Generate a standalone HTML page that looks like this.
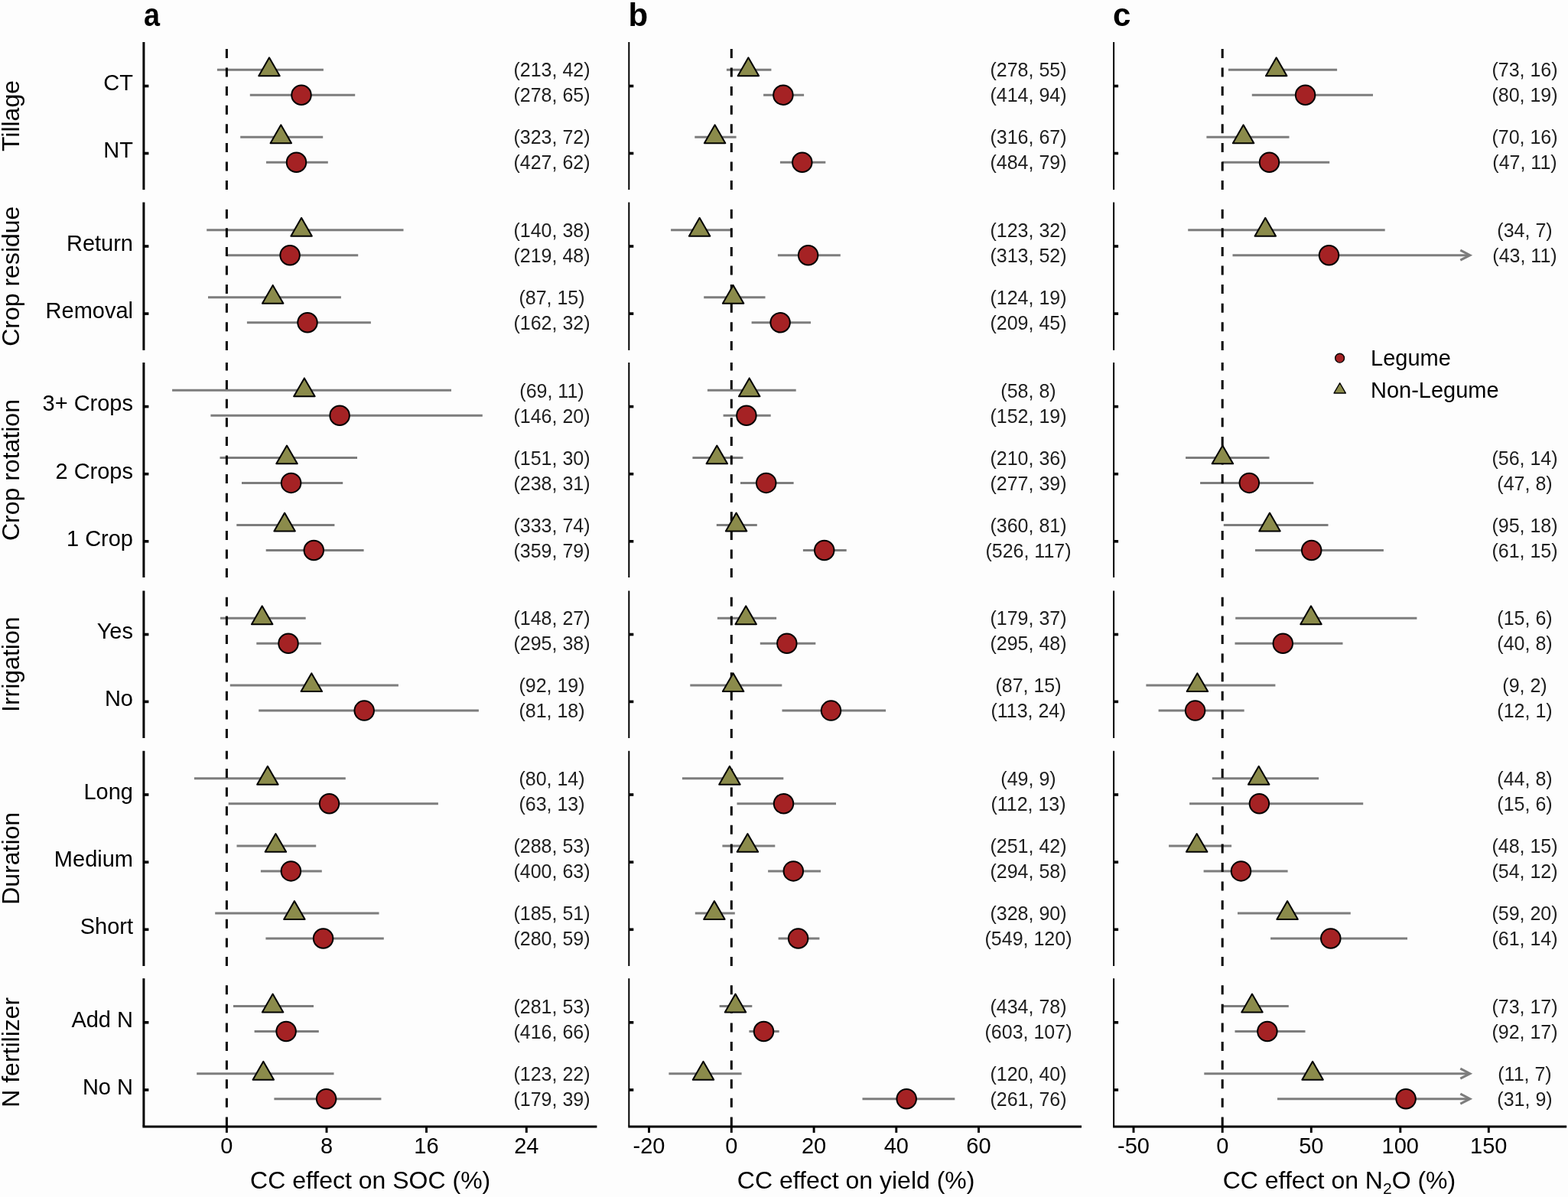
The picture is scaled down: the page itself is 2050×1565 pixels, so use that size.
<!DOCTYPE html><html><head><meta charset="utf-8"><style>html,body{margin:0;padding:0;background:#fdfdfd;}svg{display:block;}text{font-family:"Liberation Sans",sans-serif;}</style></head><body>
<svg width="2050" height="1565" viewBox="0 0 2050 1565">
<rect width="2050" height="1565" fill="#fdfdfd"/>
<text transform="translate(24.9,151.55) rotate(-90)" text-anchor="middle" font-size="32" fill="#000">Tillage</text>
<text x="174" y="118.3" text-anchor="end" font-size="29" fill="#000">CT</text>
<text x="174" y="206.3" text-anchor="end" font-size="29" fill="#000">NT</text>
<text transform="translate(24.9,361.2) rotate(-90)" text-anchor="middle" font-size="32" fill="#000">Crop residue</text>
<text x="174" y="327.8" text-anchor="end" font-size="29" fill="#000">Return</text>
<text x="174" y="415.9" text-anchor="end" font-size="29" fill="#000">Removal</text>
<text transform="translate(24.9,614.55) rotate(-90)" text-anchor="middle" font-size="32" fill="#000">Crop rotation</text>
<text x="174" y="537.4" text-anchor="end" font-size="29" fill="#000">3+ Crops</text>
<text x="174" y="625.5" text-anchor="end" font-size="29" fill="#000">2 Crops</text>
<text x="174" y="713.6" text-anchor="end" font-size="29" fill="#000">1 Crop</text>
<text transform="translate(24.9,868.7) rotate(-90)" text-anchor="middle" font-size="32" fill="#000">Irrigation</text>
<text x="174" y="835.3" text-anchor="end" font-size="29" fill="#000">Yes</text>
<text x="174" y="923.2" text-anchor="end" font-size="29" fill="#000">No</text>
<text transform="translate(24.9,1122.35) rotate(-90)" text-anchor="middle" font-size="32" fill="#000">Duration</text>
<text x="174" y="1044.8" text-anchor="end" font-size="29" fill="#000">Long</text>
<text x="174" y="1133" text-anchor="end" font-size="29" fill="#000">Medium</text>
<text x="174" y="1221.1" text-anchor="end" font-size="29" fill="#000">Short</text>
<text transform="translate(24.9,1375.8) rotate(-90)" text-anchor="middle" font-size="32" fill="#000">N fertilizer</text>
<text x="174" y="1342.6" text-anchor="end" font-size="29" fill="#000">Add N</text>
<text x="174" y="1430.8" text-anchor="end" font-size="29" fill="#000">No N</text>
<text x="187.9" y="34" font-size="42" font-weight="bold" fill="#000" textLength="21" lengthAdjust="spacingAndGlyphs">a</text>
<line x1="187.9" y1="55" x2="187.9" y2="248.1" stroke="#000" stroke-width="3.0"/>
<line x1="187.9" y1="112.5" x2="194.4" y2="112.5" stroke="#000" stroke-width="3.6"/>
<line x1="187.9" y1="200.5" x2="194.4" y2="200.5" stroke="#000" stroke-width="3.6"/>
<line x1="187.9" y1="264.5" x2="187.9" y2="457.9" stroke="#000" stroke-width="3.0"/>
<line x1="187.9" y1="322" x2="194.4" y2="322" stroke="#000" stroke-width="3.6"/>
<line x1="187.9" y1="410.1" x2="194.4" y2="410.1" stroke="#000" stroke-width="3.6"/>
<line x1="187.9" y1="474" x2="187.9" y2="755.1" stroke="#000" stroke-width="3.0"/>
<line x1="187.9" y1="531.6" x2="194.4" y2="531.6" stroke="#000" stroke-width="3.6"/>
<line x1="187.9" y1="619.7" x2="194.4" y2="619.7" stroke="#000" stroke-width="3.6"/>
<line x1="187.9" y1="707.8" x2="194.4" y2="707.8" stroke="#000" stroke-width="3.6"/>
<line x1="187.9" y1="772.4" x2="187.9" y2="965" stroke="#000" stroke-width="3.0"/>
<line x1="187.9" y1="829.5" x2="194.4" y2="829.5" stroke="#000" stroke-width="3.6"/>
<line x1="187.9" y1="917.4" x2="194.4" y2="917.4" stroke="#000" stroke-width="3.6"/>
<line x1="187.9" y1="981.7" x2="187.9" y2="1263" stroke="#000" stroke-width="3.0"/>
<line x1="187.9" y1="1039" x2="194.4" y2="1039" stroke="#000" stroke-width="3.6"/>
<line x1="187.9" y1="1127.2" x2="194.4" y2="1127.2" stroke="#000" stroke-width="3.6"/>
<line x1="187.9" y1="1215.3" x2="194.4" y2="1215.3" stroke="#000" stroke-width="3.6"/>
<line x1="187.9" y1="1279.2" x2="187.9" y2="1472.4" stroke="#000" stroke-width="3.0"/>
<line x1="187.9" y1="1336.8" x2="194.4" y2="1336.8" stroke="#000" stroke-width="3.6"/>
<line x1="187.9" y1="1425" x2="194.4" y2="1425" stroke="#000" stroke-width="3.6"/>
<line x1="186.4" y1="1473" x2="780.4" y2="1473" stroke="#000" stroke-width="3"/>
<line x1="296.4" y1="1473" x2="296.4" y2="1481" stroke="#000" stroke-width="2.9"/>
<text x="296.4" y="1508.2" text-anchor="middle" font-size="29" fill="#000">0</text>
<line x1="427" y1="1473" x2="427" y2="1481" stroke="#000" stroke-width="2.9"/>
<text x="427" y="1508.2" text-anchor="middle" font-size="29" fill="#000">8</text>
<line x1="557.5" y1="1473" x2="557.5" y2="1481" stroke="#000" stroke-width="2.9"/>
<text x="557.5" y="1508.2" text-anchor="middle" font-size="29" fill="#000">16</text>
<line x1="688.3" y1="1473" x2="688.3" y2="1481" stroke="#000" stroke-width="2.9"/>
<text x="688.3" y="1508.2" text-anchor="middle" font-size="29" fill="#000">24</text>
<text x="484.15" y="1554.2" text-anchor="middle" font-size="32" fill="#000">CC effect on SOC (%)</text>
<line x1="283.9" y1="91.2" x2="422.9" y2="91.2" stroke="#7d7d7d" stroke-width="3.0"/>
<line x1="326.8" y1="124.2" x2="464.2" y2="124.2" stroke="#7d7d7d" stroke-width="3.0"/>
<line x1="314.2" y1="179.2" x2="422.2" y2="179.2" stroke="#7d7d7d" stroke-width="3.0"/>
<line x1="348" y1="212.2" x2="428.8" y2="212.2" stroke="#7d7d7d" stroke-width="3.0"/>
<line x1="270.2" y1="300.7" x2="527.5" y2="300.7" stroke="#7d7d7d" stroke-width="3.0"/>
<line x1="296.2" y1="333.7" x2="468.2" y2="333.7" stroke="#7d7d7d" stroke-width="3.0"/>
<line x1="272" y1="388.8" x2="445.9" y2="388.8" stroke="#7d7d7d" stroke-width="3.0"/>
<line x1="322.9" y1="421.8" x2="484.9" y2="421.8" stroke="#7d7d7d" stroke-width="3.0"/>
<line x1="225.1" y1="510.3" x2="590" y2="510.3" stroke="#7d7d7d" stroke-width="3.0"/>
<line x1="275.4" y1="543.3" x2="630.8" y2="543.3" stroke="#7d7d7d" stroke-width="3.0"/>
<line x1="287.5" y1="598.4" x2="467" y2="598.4" stroke="#7d7d7d" stroke-width="3.0"/>
<line x1="316" y1="631.4" x2="448.2" y2="631.4" stroke="#7d7d7d" stroke-width="3.0"/>
<line x1="309.3" y1="686.5" x2="437.4" y2="686.5" stroke="#7d7d7d" stroke-width="3.0"/>
<line x1="347.7" y1="719.5" x2="475.6" y2="719.5" stroke="#7d7d7d" stroke-width="3.0"/>
<line x1="288" y1="808.2" x2="399.7" y2="808.2" stroke="#7d7d7d" stroke-width="3.0"/>
<line x1="335.3" y1="841.2" x2="419.9" y2="841.2" stroke="#7d7d7d" stroke-width="3.0"/>
<line x1="300.8" y1="896.1" x2="520.9" y2="896.1" stroke="#7d7d7d" stroke-width="3.0"/>
<line x1="338.2" y1="929.1" x2="625.9" y2="929.1" stroke="#7d7d7d" stroke-width="3.0"/>
<line x1="253.9" y1="1017.7" x2="451.8" y2="1017.7" stroke="#7d7d7d" stroke-width="3.0"/>
<line x1="298.7" y1="1050.7" x2="572.9" y2="1050.7" stroke="#7d7d7d" stroke-width="3.0"/>
<line x1="309.5" y1="1105.9" x2="413.2" y2="1105.9" stroke="#7d7d7d" stroke-width="3.0"/>
<line x1="340.9" y1="1138.9" x2="420.8" y2="1138.9" stroke="#7d7d7d" stroke-width="3.0"/>
<line x1="281.2" y1="1194" x2="495.5" y2="1194" stroke="#7d7d7d" stroke-width="3.0"/>
<line x1="347.4" y1="1227" x2="501.8" y2="1227" stroke="#7d7d7d" stroke-width="3.0"/>
<line x1="305" y1="1315.5" x2="410" y2="1315.5" stroke="#7d7d7d" stroke-width="3.0"/>
<line x1="332.6" y1="1348.5" x2="416.8" y2="1348.5" stroke="#7d7d7d" stroke-width="3.0"/>
<line x1="257.2" y1="1403.7" x2="436.5" y2="1403.7" stroke="#7d7d7d" stroke-width="3.0"/>
<line x1="358.4" y1="1436.7" x2="498.4" y2="1436.7" stroke="#7d7d7d" stroke-width="3.0"/>
<line x1="296.4" y1="248.1" x2="296.4" y2="55" stroke="#000" stroke-width="3" stroke-dasharray="12 12.6"/>
<line x1="296.4" y1="457.9" x2="296.4" y2="264.5" stroke="#000" stroke-width="3" stroke-dasharray="12 12.6"/>
<line x1="296.4" y1="755.1" x2="296.4" y2="474" stroke="#000" stroke-width="3" stroke-dasharray="12 12.6"/>
<line x1="296.4" y1="965" x2="296.4" y2="772.4" stroke="#000" stroke-width="3" stroke-dasharray="12 12.6"/>
<line x1="296.4" y1="1263" x2="296.4" y2="981.7" stroke="#000" stroke-width="3" stroke-dasharray="12 12.6"/>
<line x1="296.4" y1="1472.4" x2="296.4" y2="1279.2" stroke="#000" stroke-width="3" stroke-dasharray="12 12.6"/>
<polygon points="352,75.32 365.75,99.14 338.25,99.14" fill="#8b8b4b" stroke="#000" stroke-width="2.0" stroke-linejoin="round"/>
<circle cx="394" cy="124.2" r="12.75" fill="#a52224" stroke="#000" stroke-width="2.0"/>
<polygon points="367.3,163.32 381.05,187.14 353.55,187.14" fill="#8b8b4b" stroke="#000" stroke-width="2.0" stroke-linejoin="round"/>
<circle cx="387.5" cy="212.2" r="12.75" fill="#a52224" stroke="#000" stroke-width="2.0"/>
<polygon points="394.1,284.82 407.85,308.64 380.35,308.64" fill="#8b8b4b" stroke="#000" stroke-width="2.0" stroke-linejoin="round"/>
<circle cx="379.1" cy="333.7" r="12.75" fill="#a52224" stroke="#000" stroke-width="2.0"/>
<polygon points="356.7,372.92 370.45,396.74 342.95,396.74" fill="#8b8b4b" stroke="#000" stroke-width="2.0" stroke-linejoin="round"/>
<circle cx="402" cy="421.8" r="12.75" fill="#a52224" stroke="#000" stroke-width="2.0"/>
<polygon points="397.9,494.42 411.65,518.24 384.15,518.24" fill="#8b8b4b" stroke="#000" stroke-width="2.0" stroke-linejoin="round"/>
<circle cx="444.1" cy="543.3" r="12.75" fill="#a52224" stroke="#000" stroke-width="2.0"/>
<polygon points="375,582.52 388.75,606.34 361.25,606.34" fill="#8b8b4b" stroke="#000" stroke-width="2.0" stroke-linejoin="round"/>
<circle cx="380.6" cy="631.4" r="12.75" fill="#a52224" stroke="#000" stroke-width="2.0"/>
<polygon points="372.1,670.62 385.85,694.44 358.35,694.44" fill="#8b8b4b" stroke="#000" stroke-width="2.0" stroke-linejoin="round"/>
<circle cx="410.3" cy="719.5" r="12.75" fill="#a52224" stroke="#000" stroke-width="2.0"/>
<polygon points="342.7,792.32 356.45,816.14 328.95,816.14" fill="#8b8b4b" stroke="#000" stroke-width="2.0" stroke-linejoin="round"/>
<circle cx="377" cy="841.2" r="12.75" fill="#a52224" stroke="#000" stroke-width="2.0"/>
<polygon points="407.3,880.22 421.05,904.04 393.55,904.04" fill="#8b8b4b" stroke="#000" stroke-width="2.0" stroke-linejoin="round"/>
<circle cx="476.2" cy="929.1" r="12.75" fill="#a52224" stroke="#000" stroke-width="2.0"/>
<polygon points="349.9,1001.82 363.65,1025.64 336.15,1025.64" fill="#8b8b4b" stroke="#000" stroke-width="2.0" stroke-linejoin="round"/>
<circle cx="430.5" cy="1050.7" r="12.75" fill="#a52224" stroke="#000" stroke-width="2.0"/>
<polygon points="360.4,1090.02 374.15,1113.84 346.65,1113.84" fill="#8b8b4b" stroke="#000" stroke-width="2.0" stroke-linejoin="round"/>
<circle cx="380.4" cy="1138.9" r="12.75" fill="#a52224" stroke="#000" stroke-width="2.0"/>
<polygon points="384.9,1178.12 398.65,1201.94 371.15,1201.94" fill="#8b8b4b" stroke="#000" stroke-width="2.0" stroke-linejoin="round"/>
<circle cx="422.6" cy="1227" r="12.75" fill="#a52224" stroke="#000" stroke-width="2.0"/>
<polygon points="356.6,1299.62 370.35,1323.44 342.85,1323.44" fill="#8b8b4b" stroke="#000" stroke-width="2.0" stroke-linejoin="round"/>
<circle cx="374.1" cy="1348.5" r="12.75" fill="#a52224" stroke="#000" stroke-width="2.0"/>
<polygon points="344.3,1387.82 358.05,1411.64 330.55,1411.64" fill="#8b8b4b" stroke="#000" stroke-width="2.0" stroke-linejoin="round"/>
<circle cx="426.6" cy="1436.7" r="12.75" fill="#a52224" stroke="#000" stroke-width="2.0"/>
<text x="721.5" y="100.4" text-anchor="middle" font-size="25" fill="#202020">(213, 42)</text>
<text x="721.5" y="133.4" text-anchor="middle" font-size="25" fill="#202020">(278, 65)</text>
<text x="721.5" y="188.4" text-anchor="middle" font-size="25" fill="#202020">(323, 72)</text>
<text x="721.5" y="221.4" text-anchor="middle" font-size="25" fill="#202020">(427, 62)</text>
<text x="721.5" y="309.9" text-anchor="middle" font-size="25" fill="#202020">(140, 38)</text>
<text x="721.5" y="342.9" text-anchor="middle" font-size="25" fill="#202020">(219, 48)</text>
<text x="721.5" y="398" text-anchor="middle" font-size="25" fill="#202020">(87, 15)</text>
<text x="721.5" y="431" text-anchor="middle" font-size="25" fill="#202020">(162, 32)</text>
<text x="721.5" y="519.5" text-anchor="middle" font-size="25" fill="#202020">(69, 11)</text>
<text x="721.5" y="552.5" text-anchor="middle" font-size="25" fill="#202020">(146, 20)</text>
<text x="721.5" y="607.6" text-anchor="middle" font-size="25" fill="#202020">(151, 30)</text>
<text x="721.5" y="640.6" text-anchor="middle" font-size="25" fill="#202020">(238, 31)</text>
<text x="721.5" y="695.7" text-anchor="middle" font-size="25" fill="#202020">(333, 74)</text>
<text x="721.5" y="728.7" text-anchor="middle" font-size="25" fill="#202020">(359, 79)</text>
<text x="721.5" y="817.4" text-anchor="middle" font-size="25" fill="#202020">(148, 27)</text>
<text x="721.5" y="850.4" text-anchor="middle" font-size="25" fill="#202020">(295, 38)</text>
<text x="721.5" y="905.3" text-anchor="middle" font-size="25" fill="#202020">(92, 19)</text>
<text x="721.5" y="938.3" text-anchor="middle" font-size="25" fill="#202020">(81, 18)</text>
<text x="721.5" y="1026.9" text-anchor="middle" font-size="25" fill="#202020">(80, 14)</text>
<text x="721.5" y="1059.9" text-anchor="middle" font-size="25" fill="#202020">(63, 13)</text>
<text x="721.5" y="1115.1" text-anchor="middle" font-size="25" fill="#202020">(288, 53)</text>
<text x="721.5" y="1148.1" text-anchor="middle" font-size="25" fill="#202020">(400, 63)</text>
<text x="721.5" y="1203.2" text-anchor="middle" font-size="25" fill="#202020">(185, 51)</text>
<text x="721.5" y="1236.2" text-anchor="middle" font-size="25" fill="#202020">(280, 59)</text>
<text x="721.5" y="1324.7" text-anchor="middle" font-size="25" fill="#202020">(281, 53)</text>
<text x="721.5" y="1357.7" text-anchor="middle" font-size="25" fill="#202020">(416, 66)</text>
<text x="721.5" y="1412.9" text-anchor="middle" font-size="25" fill="#202020">(123, 22)</text>
<text x="721.5" y="1445.9" text-anchor="middle" font-size="25" fill="#202020">(179, 39)</text>
<text x="821.4" y="34" font-size="42" font-weight="bold" fill="#000">b</text>
<line x1="822.3" y1="55" x2="822.3" y2="248.1" stroke="#000" stroke-width="2.0"/>
<line x1="822.3" y1="112.5" x2="828.3" y2="112.5" stroke="#000" stroke-width="3.6"/>
<line x1="822.3" y1="200.5" x2="828.3" y2="200.5" stroke="#000" stroke-width="3.6"/>
<line x1="822.3" y1="264.5" x2="822.3" y2="457.9" stroke="#000" stroke-width="2.0"/>
<line x1="822.3" y1="322" x2="828.3" y2="322" stroke="#000" stroke-width="3.6"/>
<line x1="822.3" y1="410.1" x2="828.3" y2="410.1" stroke="#000" stroke-width="3.6"/>
<line x1="822.3" y1="474" x2="822.3" y2="755.1" stroke="#000" stroke-width="2.0"/>
<line x1="822.3" y1="531.6" x2="828.3" y2="531.6" stroke="#000" stroke-width="3.6"/>
<line x1="822.3" y1="619.7" x2="828.3" y2="619.7" stroke="#000" stroke-width="3.6"/>
<line x1="822.3" y1="707.8" x2="828.3" y2="707.8" stroke="#000" stroke-width="3.6"/>
<line x1="822.3" y1="772.4" x2="822.3" y2="965" stroke="#000" stroke-width="2.0"/>
<line x1="822.3" y1="829.5" x2="828.3" y2="829.5" stroke="#000" stroke-width="3.6"/>
<line x1="822.3" y1="917.4" x2="828.3" y2="917.4" stroke="#000" stroke-width="3.6"/>
<line x1="822.3" y1="981.7" x2="822.3" y2="1263" stroke="#000" stroke-width="2.0"/>
<line x1="822.3" y1="1039" x2="828.3" y2="1039" stroke="#000" stroke-width="3.6"/>
<line x1="822.3" y1="1127.2" x2="828.3" y2="1127.2" stroke="#000" stroke-width="3.6"/>
<line x1="822.3" y1="1215.3" x2="828.3" y2="1215.3" stroke="#000" stroke-width="3.6"/>
<line x1="822.3" y1="1279.2" x2="822.3" y2="1472.4" stroke="#000" stroke-width="2.0"/>
<line x1="822.3" y1="1336.8" x2="828.3" y2="1336.8" stroke="#000" stroke-width="3.6"/>
<line x1="822.3" y1="1425" x2="828.3" y2="1425" stroke="#000" stroke-width="3.6"/>
<line x1="821.3" y1="1473" x2="1414" y2="1473" stroke="#000" stroke-width="3"/>
<line x1="848.5" y1="1473" x2="848.5" y2="1481" stroke="#000" stroke-width="2.9"/>
<text x="848.5" y="1508.2" text-anchor="middle" font-size="29" fill="#000">-20</text>
<line x1="956.3" y1="1473" x2="956.3" y2="1481" stroke="#000" stroke-width="2.9"/>
<text x="956.3" y="1508.2" text-anchor="middle" font-size="29" fill="#000">0</text>
<line x1="1064.1" y1="1473" x2="1064.1" y2="1481" stroke="#000" stroke-width="2.9"/>
<text x="1064.1" y="1508.2" text-anchor="middle" font-size="29" fill="#000">20</text>
<line x1="1171.8" y1="1473" x2="1171.8" y2="1481" stroke="#000" stroke-width="2.9"/>
<text x="1171.8" y="1508.2" text-anchor="middle" font-size="29" fill="#000">40</text>
<line x1="1279.5" y1="1473" x2="1279.5" y2="1481" stroke="#000" stroke-width="2.9"/>
<text x="1279.5" y="1508.2" text-anchor="middle" font-size="29" fill="#000">60</text>
<text x="1119.15" y="1554.2" text-anchor="middle" font-size="32" fill="#000">CC effect on yield (%)</text>
<line x1="949.9" y1="91.2" x2="1008.4" y2="91.2" stroke="#7d7d7d" stroke-width="3.0"/>
<line x1="998.1" y1="124.2" x2="1051.1" y2="124.2" stroke="#7d7d7d" stroke-width="3.0"/>
<line x1="908.3" y1="179.2" x2="962.6" y2="179.2" stroke="#7d7d7d" stroke-width="3.0"/>
<line x1="1019.9" y1="212.2" x2="1079.3" y2="212.2" stroke="#7d7d7d" stroke-width="3.0"/>
<line x1="877.1" y1="300.7" x2="955" y2="300.7" stroke="#7d7d7d" stroke-width="3.0"/>
<line x1="1016.9" y1="333.7" x2="1098.8" y2="333.7" stroke="#7d7d7d" stroke-width="3.0"/>
<line x1="920.2" y1="388.8" x2="1000.5" y2="388.8" stroke="#7d7d7d" stroke-width="3.0"/>
<line x1="982.6" y1="421.8" x2="1060" y2="421.8" stroke="#7d7d7d" stroke-width="3.0"/>
<line x1="924.9" y1="510.3" x2="1040.7" y2="510.3" stroke="#7d7d7d" stroke-width="3.0"/>
<line x1="945.6" y1="543.3" x2="1007.7" y2="543.3" stroke="#7d7d7d" stroke-width="3.0"/>
<line x1="905.4" y1="598.4" x2="971.4" y2="598.4" stroke="#7d7d7d" stroke-width="3.0"/>
<line x1="968" y1="631.4" x2="1037.6" y2="631.4" stroke="#7d7d7d" stroke-width="3.0"/>
<line x1="936.8" y1="686.5" x2="989.8" y2="686.5" stroke="#7d7d7d" stroke-width="3.0"/>
<line x1="1049.9" y1="719.5" x2="1106.7" y2="719.5" stroke="#7d7d7d" stroke-width="3.0"/>
<line x1="937.9" y1="808.2" x2="1015.1" y2="808.2" stroke="#7d7d7d" stroke-width="3.0"/>
<line x1="993.8" y1="841.2" x2="1066.3" y2="841.2" stroke="#7d7d7d" stroke-width="3.0"/>
<line x1="902.3" y1="896.1" x2="1022.3" y2="896.1" stroke="#7d7d7d" stroke-width="3.0"/>
<line x1="1022.5" y1="929.1" x2="1158.1" y2="929.1" stroke="#7d7d7d" stroke-width="3.0"/>
<line x1="891.9" y1="1017.7" x2="1024.3" y2="1017.7" stroke="#7d7d7d" stroke-width="3.0"/>
<line x1="963.5" y1="1050.7" x2="1093" y2="1050.7" stroke="#7d7d7d" stroke-width="3.0"/>
<line x1="944.4" y1="1105.9" x2="1013.3" y2="1105.9" stroke="#7d7d7d" stroke-width="3.0"/>
<line x1="1004.1" y1="1138.9" x2="1073" y2="1138.9" stroke="#7d7d7d" stroke-width="3.0"/>
<line x1="908.8" y1="1194" x2="960.8" y2="1194" stroke="#7d7d7d" stroke-width="3.0"/>
<line x1="1017.6" y1="1227" x2="1071.4" y2="1227" stroke="#7d7d7d" stroke-width="3.0"/>
<line x1="940.6" y1="1315.5" x2="983.3" y2="1315.5" stroke="#7d7d7d" stroke-width="3.0"/>
<line x1="979.4" y1="1348.5" x2="1018.7" y2="1348.5" stroke="#7d7d7d" stroke-width="3.0"/>
<line x1="874.4" y1="1403.7" x2="969.6" y2="1403.7" stroke="#7d7d7d" stroke-width="3.0"/>
<line x1="1127.5" y1="1436.7" x2="1248.3" y2="1436.7" stroke="#7d7d7d" stroke-width="3.0"/>
<line x1="956.3" y1="248.1" x2="956.3" y2="55" stroke="#000" stroke-width="3" stroke-dasharray="12 12.6"/>
<line x1="956.3" y1="457.9" x2="956.3" y2="264.5" stroke="#000" stroke-width="3" stroke-dasharray="12 12.6"/>
<line x1="956.3" y1="755.1" x2="956.3" y2="474" stroke="#000" stroke-width="3" stroke-dasharray="12 12.6"/>
<line x1="956.3" y1="965" x2="956.3" y2="772.4" stroke="#000" stroke-width="3" stroke-dasharray="12 12.6"/>
<line x1="956.3" y1="1263" x2="956.3" y2="981.7" stroke="#000" stroke-width="3" stroke-dasharray="12 12.6"/>
<line x1="956.3" y1="1472.4" x2="956.3" y2="1279.2" stroke="#000" stroke-width="3" stroke-dasharray="12 12.6"/>
<polygon points="978.4,75.32 992.15,99.14 964.65,99.14" fill="#8b8b4b" stroke="#000" stroke-width="2.0" stroke-linejoin="round"/>
<circle cx="1023.9" cy="124.2" r="12.75" fill="#a52224" stroke="#000" stroke-width="2.0"/>
<polygon points="934.6,163.32 948.35,187.14 920.85,187.14" fill="#8b8b4b" stroke="#000" stroke-width="2.0" stroke-linejoin="round"/>
<circle cx="1048.8" cy="212.2" r="12.75" fill="#a52224" stroke="#000" stroke-width="2.0"/>
<polygon points="914.6,284.82 928.35,308.64 900.85,308.64" fill="#8b8b4b" stroke="#000" stroke-width="2.0" stroke-linejoin="round"/>
<circle cx="1056.6" cy="333.7" r="12.75" fill="#a52224" stroke="#000" stroke-width="2.0"/>
<polygon points="958.6,372.92 972.35,396.74 944.85,396.74" fill="#8b8b4b" stroke="#000" stroke-width="2.0" stroke-linejoin="round"/>
<circle cx="1020.1" cy="421.8" r="12.75" fill="#a52224" stroke="#000" stroke-width="2.0"/>
<polygon points="979.7,494.42 993.45,518.24 965.95,518.24" fill="#8b8b4b" stroke="#000" stroke-width="2.0" stroke-linejoin="round"/>
<circle cx="975.9" cy="543.3" r="12.75" fill="#a52224" stroke="#000" stroke-width="2.0"/>
<polygon points="937.3,582.52 951.05,606.34 923.55,606.34" fill="#8b8b4b" stroke="#000" stroke-width="2.0" stroke-linejoin="round"/>
<circle cx="1001.7" cy="631.4" r="12.75" fill="#a52224" stroke="#000" stroke-width="2.0"/>
<polygon points="962.6,670.62 976.35,694.44 948.85,694.44" fill="#8b8b4b" stroke="#000" stroke-width="2.0" stroke-linejoin="round"/>
<circle cx="1077.7" cy="719.5" r="12.75" fill="#a52224" stroke="#000" stroke-width="2.0"/>
<polygon points="975.2,792.32 988.95,816.14 961.45,816.14" fill="#8b8b4b" stroke="#000" stroke-width="2.0" stroke-linejoin="round"/>
<circle cx="1028.8" cy="841.2" r="12.75" fill="#a52224" stroke="#000" stroke-width="2.0"/>
<polygon points="958.6,880.22 972.35,904.04 944.85,904.04" fill="#8b8b4b" stroke="#000" stroke-width="2.0" stroke-linejoin="round"/>
<circle cx="1086.5" cy="929.1" r="12.75" fill="#a52224" stroke="#000" stroke-width="2.0"/>
<polygon points="953.9,1001.82 967.65,1025.64 940.15,1025.64" fill="#8b8b4b" stroke="#000" stroke-width="2.0" stroke-linejoin="round"/>
<circle cx="1024.5" cy="1050.7" r="12.75" fill="#a52224" stroke="#000" stroke-width="2.0"/>
<polygon points="977.4,1090.02 991.15,1113.84 963.65,1113.84" fill="#8b8b4b" stroke="#000" stroke-width="2.0" stroke-linejoin="round"/>
<circle cx="1037.3" cy="1138.9" r="12.75" fill="#a52224" stroke="#000" stroke-width="2.0"/>
<polygon points="933.9,1178.12 947.65,1201.94 920.15,1201.94" fill="#8b8b4b" stroke="#000" stroke-width="2.0" stroke-linejoin="round"/>
<circle cx="1043.6" cy="1227" r="12.75" fill="#a52224" stroke="#000" stroke-width="2.0"/>
<polygon points="961.5,1299.62 975.25,1323.44 947.75,1323.44" fill="#8b8b4b" stroke="#000" stroke-width="2.0" stroke-linejoin="round"/>
<circle cx="998.5" cy="1348.5" r="12.75" fill="#a52224" stroke="#000" stroke-width="2.0"/>
<polygon points="919.5,1387.82 933.25,1411.64 905.75,1411.64" fill="#8b8b4b" stroke="#000" stroke-width="2.0" stroke-linejoin="round"/>
<circle cx="1185.2" cy="1436.7" r="12.75" fill="#a52224" stroke="#000" stroke-width="2.0"/>
<text x="1344.5" y="100.4" text-anchor="middle" font-size="25" fill="#202020">(278, 55)</text>
<text x="1344.5" y="133.4" text-anchor="middle" font-size="25" fill="#202020">(414, 94)</text>
<text x="1344.5" y="188.4" text-anchor="middle" font-size="25" fill="#202020">(316, 67)</text>
<text x="1344.5" y="221.4" text-anchor="middle" font-size="25" fill="#202020">(484, 79)</text>
<text x="1344.5" y="309.9" text-anchor="middle" font-size="25" fill="#202020">(123, 32)</text>
<text x="1344.5" y="342.9" text-anchor="middle" font-size="25" fill="#202020">(313, 52)</text>
<text x="1344.5" y="398" text-anchor="middle" font-size="25" fill="#202020">(124, 19)</text>
<text x="1344.5" y="431" text-anchor="middle" font-size="25" fill="#202020">(209, 45)</text>
<text x="1344.5" y="519.5" text-anchor="middle" font-size="25" fill="#202020">(58, 8)</text>
<text x="1344.5" y="552.5" text-anchor="middle" font-size="25" fill="#202020">(152, 19)</text>
<text x="1344.5" y="607.6" text-anchor="middle" font-size="25" fill="#202020">(210, 36)</text>
<text x="1344.5" y="640.6" text-anchor="middle" font-size="25" fill="#202020">(277, 39)</text>
<text x="1344.5" y="695.7" text-anchor="middle" font-size="25" fill="#202020">(360, 81)</text>
<text x="1344.5" y="728.7" text-anchor="middle" font-size="25" fill="#202020">(526, 117)</text>
<text x="1344.5" y="817.4" text-anchor="middle" font-size="25" fill="#202020">(179, 37)</text>
<text x="1344.5" y="850.4" text-anchor="middle" font-size="25" fill="#202020">(295, 48)</text>
<text x="1344.5" y="905.3" text-anchor="middle" font-size="25" fill="#202020">(87, 15)</text>
<text x="1344.5" y="938.3" text-anchor="middle" font-size="25" fill="#202020">(113, 24)</text>
<text x="1344.5" y="1026.9" text-anchor="middle" font-size="25" fill="#202020">(49, 9)</text>
<text x="1344.5" y="1059.9" text-anchor="middle" font-size="25" fill="#202020">(112, 13)</text>
<text x="1344.5" y="1115.1" text-anchor="middle" font-size="25" fill="#202020">(251, 42)</text>
<text x="1344.5" y="1148.1" text-anchor="middle" font-size="25" fill="#202020">(294, 58)</text>
<text x="1344.5" y="1203.2" text-anchor="middle" font-size="25" fill="#202020">(328, 90)</text>
<text x="1344.5" y="1236.2" text-anchor="middle" font-size="25" fill="#202020">(549, 120)</text>
<text x="1344.5" y="1324.7" text-anchor="middle" font-size="25" fill="#202020">(434, 78)</text>
<text x="1344.5" y="1357.7" text-anchor="middle" font-size="25" fill="#202020">(603, 107)</text>
<text x="1344.5" y="1412.9" text-anchor="middle" font-size="25" fill="#202020">(120, 40)</text>
<text x="1344.5" y="1445.9" text-anchor="middle" font-size="25" fill="#202020">(261, 76)</text>
<text x="1455.1" y="34" font-size="42" font-weight="bold" fill="#000">c</text>
<line x1="1456.1" y1="55" x2="1456.1" y2="248.1" stroke="#000" stroke-width="2.0"/>
<line x1="1456.1" y1="112.5" x2="1462.1" y2="112.5" stroke="#000" stroke-width="3.6"/>
<line x1="1456.1" y1="200.5" x2="1462.1" y2="200.5" stroke="#000" stroke-width="3.6"/>
<line x1="1456.1" y1="264.5" x2="1456.1" y2="457.9" stroke="#000" stroke-width="2.0"/>
<line x1="1456.1" y1="322" x2="1462.1" y2="322" stroke="#000" stroke-width="3.6"/>
<line x1="1456.1" y1="410.1" x2="1462.1" y2="410.1" stroke="#000" stroke-width="3.6"/>
<line x1="1456.1" y1="474" x2="1456.1" y2="755.1" stroke="#000" stroke-width="2.0"/>
<line x1="1456.1" y1="531.6" x2="1462.1" y2="531.6" stroke="#000" stroke-width="3.6"/>
<line x1="1456.1" y1="619.7" x2="1462.1" y2="619.7" stroke="#000" stroke-width="3.6"/>
<line x1="1456.1" y1="707.8" x2="1462.1" y2="707.8" stroke="#000" stroke-width="3.6"/>
<line x1="1456.1" y1="772.4" x2="1456.1" y2="965" stroke="#000" stroke-width="2.0"/>
<line x1="1456.1" y1="829.5" x2="1462.1" y2="829.5" stroke="#000" stroke-width="3.6"/>
<line x1="1456.1" y1="917.4" x2="1462.1" y2="917.4" stroke="#000" stroke-width="3.6"/>
<line x1="1456.1" y1="981.7" x2="1456.1" y2="1263" stroke="#000" stroke-width="2.0"/>
<line x1="1456.1" y1="1039" x2="1462.1" y2="1039" stroke="#000" stroke-width="3.6"/>
<line x1="1456.1" y1="1127.2" x2="1462.1" y2="1127.2" stroke="#000" stroke-width="3.6"/>
<line x1="1456.1" y1="1215.3" x2="1462.1" y2="1215.3" stroke="#000" stroke-width="3.6"/>
<line x1="1456.1" y1="1279.2" x2="1456.1" y2="1472.4" stroke="#000" stroke-width="2.0"/>
<line x1="1456.1" y1="1336.8" x2="1462.1" y2="1336.8" stroke="#000" stroke-width="3.6"/>
<line x1="1456.1" y1="1425" x2="1462.1" y2="1425" stroke="#000" stroke-width="3.6"/>
<line x1="1455.1" y1="1473" x2="2048.2" y2="1473" stroke="#000" stroke-width="3"/>
<line x1="1482" y1="1473" x2="1482" y2="1481" stroke="#000" stroke-width="2.9"/>
<text x="1482" y="1508.2" text-anchor="middle" font-size="29" fill="#000">-50</text>
<line x1="1598.2" y1="1473" x2="1598.2" y2="1481" stroke="#000" stroke-width="2.9"/>
<text x="1598.2" y="1508.2" text-anchor="middle" font-size="29" fill="#000">0</text>
<line x1="1714.3" y1="1473" x2="1714.3" y2="1481" stroke="#000" stroke-width="2.9"/>
<text x="1714.3" y="1508.2" text-anchor="middle" font-size="29" fill="#000">50</text>
<line x1="1830.8" y1="1473" x2="1830.8" y2="1481" stroke="#000" stroke-width="2.9"/>
<text x="1830.8" y="1508.2" text-anchor="middle" font-size="29" fill="#000">100</text>
<line x1="1946.3" y1="1473" x2="1946.3" y2="1481" stroke="#000" stroke-width="2.9"/>
<text x="1946.3" y="1508.2" text-anchor="middle" font-size="29" fill="#000">150</text>
<text x="1750.95" y="1554.2" text-anchor="middle" font-size="32" fill="#000">CC effect on N<tspan font-size="21" dy="6.5">2</tspan><tspan dy="-6.5">O (%)</tspan></text>
<line x1="1605.9" y1="91.2" x2="1748.1" y2="91.2" stroke="#7d7d7d" stroke-width="3.0"/>
<line x1="1636.8" y1="124.2" x2="1795" y2="124.2" stroke="#7d7d7d" stroke-width="3.0"/>
<line x1="1577.4" y1="179.2" x2="1685.5" y2="179.2" stroke="#7d7d7d" stroke-width="3.0"/>
<line x1="1598.2" y1="212.2" x2="1738.2" y2="212.2" stroke="#7d7d7d" stroke-width="3.0"/>
<line x1="1553.2" y1="300.7" x2="1810.7" y2="300.7" stroke="#7d7d7d" stroke-width="3.0"/>
<line x1="1611.5" y1="333.7" x2="1920.9" y2="333.7" stroke="#7d7d7d" stroke-width="3.0"/>
<polyline points="1909.3,327.2 1921.9,333.7 1909.3,340.2" fill="none" stroke="#7d7d7d" stroke-width="3.0" stroke-linejoin="miter" stroke-miterlimit="10"/>
<line x1="1550.1" y1="598.4" x2="1659.5" y2="598.4" stroke="#7d7d7d" stroke-width="3.0"/>
<line x1="1569.1" y1="631.4" x2="1717.3" y2="631.4" stroke="#7d7d7d" stroke-width="3.0"/>
<line x1="1599.8" y1="686.5" x2="1736.5" y2="686.5" stroke="#7d7d7d" stroke-width="3.0"/>
<line x1="1641" y1="719.5" x2="1808.9" y2="719.5" stroke="#7d7d7d" stroke-width="3.0"/>
<line x1="1615.2" y1="808.2" x2="1852.4" y2="808.2" stroke="#7d7d7d" stroke-width="3.0"/>
<line x1="1614.5" y1="841.2" x2="1755.5" y2="841.2" stroke="#7d7d7d" stroke-width="3.0"/>
<line x1="1498.4" y1="896.1" x2="1667.4" y2="896.1" stroke="#7d7d7d" stroke-width="3.0"/>
<line x1="1514.6" y1="929.1" x2="1626.7" y2="929.1" stroke="#7d7d7d" stroke-width="3.0"/>
<line x1="1584.8" y1="1017.7" x2="1724.1" y2="1017.7" stroke="#7d7d7d" stroke-width="3.0"/>
<line x1="1555.1" y1="1050.7" x2="1782.2" y2="1050.7" stroke="#7d7d7d" stroke-width="3.0"/>
<line x1="1528.1" y1="1105.9" x2="1610.1" y2="1105.9" stroke="#7d7d7d" stroke-width="3.0"/>
<line x1="1573.6" y1="1138.9" x2="1683.6" y2="1138.9" stroke="#7d7d7d" stroke-width="3.0"/>
<line x1="1618" y1="1194" x2="1765.8" y2="1194" stroke="#7d7d7d" stroke-width="3.0"/>
<line x1="1661.1" y1="1227" x2="1840" y2="1227" stroke="#7d7d7d" stroke-width="3.0"/>
<line x1="1598.1" y1="1315.5" x2="1684.8" y2="1315.5" stroke="#7d7d7d" stroke-width="3.0"/>
<line x1="1614.5" y1="1348.5" x2="1706.5" y2="1348.5" stroke="#7d7d7d" stroke-width="3.0"/>
<line x1="1574.3" y1="1403.7" x2="1920.9" y2="1403.7" stroke="#7d7d7d" stroke-width="3.0"/>
<polyline points="1909.3,1397.2 1921.9,1403.7 1909.3,1410.2" fill="none" stroke="#7d7d7d" stroke-width="3.0" stroke-linejoin="miter" stroke-miterlimit="10"/>
<line x1="1670" y1="1436.7" x2="1920.9" y2="1436.7" stroke="#7d7d7d" stroke-width="3.0"/>
<polyline points="1909.3,1430.2 1921.9,1436.7 1909.3,1443.2" fill="none" stroke="#7d7d7d" stroke-width="3.0" stroke-linejoin="miter" stroke-miterlimit="10"/>
<line x1="1598.2" y1="248.1" x2="1598.2" y2="55" stroke="#000" stroke-width="3" stroke-dasharray="12 12.6"/>
<line x1="1598.2" y1="457.9" x2="1598.2" y2="264.5" stroke="#000" stroke-width="3" stroke-dasharray="12 12.6"/>
<line x1="1598.2" y1="755.1" x2="1598.2" y2="474" stroke="#000" stroke-width="3" stroke-dasharray="12 12.6"/>
<line x1="1598.2" y1="965" x2="1598.2" y2="772.4" stroke="#000" stroke-width="3" stroke-dasharray="12 12.6"/>
<line x1="1598.2" y1="1263" x2="1598.2" y2="981.7" stroke="#000" stroke-width="3" stroke-dasharray="12 12.6"/>
<line x1="1598.2" y1="1472.4" x2="1598.2" y2="1279.2" stroke="#000" stroke-width="3" stroke-dasharray="12 12.6"/>
<polygon points="1668.7,75.32 1682.45,99.14 1654.95,99.14" fill="#8b8b4b" stroke="#000" stroke-width="2.0" stroke-linejoin="round"/>
<circle cx="1706.6" cy="124.2" r="12.75" fill="#a52224" stroke="#000" stroke-width="2.0"/>
<polygon points="1625.6,163.32 1639.35,187.14 1611.85,187.14" fill="#8b8b4b" stroke="#000" stroke-width="2.0" stroke-linejoin="round"/>
<circle cx="1659.5" cy="212.2" r="12.75" fill="#a52224" stroke="#000" stroke-width="2.0"/>
<polygon points="1654.3,284.82 1668.05,308.64 1640.55,308.64" fill="#8b8b4b" stroke="#000" stroke-width="2.0" stroke-linejoin="round"/>
<circle cx="1737.5" cy="333.7" r="12.75" fill="#a52224" stroke="#000" stroke-width="2.0"/>
<polygon points="1598.4,582.52 1612.15,606.34 1584.65,606.34" fill="#8b8b4b" stroke="#000" stroke-width="2.0" stroke-linejoin="round"/>
<circle cx="1633.3" cy="631.4" r="12.75" fill="#a52224" stroke="#000" stroke-width="2.0"/>
<polygon points="1660,670.62 1673.75,694.44 1646.25,694.44" fill="#8b8b4b" stroke="#000" stroke-width="2.0" stroke-linejoin="round"/>
<circle cx="1714.7" cy="719.5" r="12.75" fill="#a52224" stroke="#000" stroke-width="2.0"/>
<polygon points="1714,792.32 1727.75,816.14 1700.25,816.14" fill="#8b8b4b" stroke="#000" stroke-width="2.0" stroke-linejoin="round"/>
<circle cx="1677.3" cy="841.2" r="12.75" fill="#a52224" stroke="#000" stroke-width="2.0"/>
<polygon points="1565.4,880.22 1579.15,904.04 1551.65,904.04" fill="#8b8b4b" stroke="#000" stroke-width="2.0" stroke-linejoin="round"/>
<circle cx="1562.6" cy="929.1" r="12.75" fill="#a52224" stroke="#000" stroke-width="2.0"/>
<polygon points="1645.7,1001.82 1659.45,1025.64 1631.95,1025.64" fill="#8b8b4b" stroke="#000" stroke-width="2.0" stroke-linejoin="round"/>
<circle cx="1646.4" cy="1050.7" r="12.75" fill="#a52224" stroke="#000" stroke-width="2.0"/>
<polygon points="1564.7,1090.02 1578.45,1113.84 1550.95,1113.84" fill="#8b8b4b" stroke="#000" stroke-width="2.0" stroke-linejoin="round"/>
<circle cx="1622.5" cy="1138.9" r="12.75" fill="#a52224" stroke="#000" stroke-width="2.0"/>
<polygon points="1683.1,1178.12 1696.85,1201.94 1669.35,1201.94" fill="#8b8b4b" stroke="#000" stroke-width="2.0" stroke-linejoin="round"/>
<circle cx="1739.8" cy="1227" r="12.75" fill="#a52224" stroke="#000" stroke-width="2.0"/>
<polygon points="1637,1299.62 1650.75,1323.44 1623.25,1323.44" fill="#8b8b4b" stroke="#000" stroke-width="2.0" stroke-linejoin="round"/>
<circle cx="1656.9" cy="1348.5" r="12.75" fill="#a52224" stroke="#000" stroke-width="2.0"/>
<polygon points="1716.1,1387.82 1729.85,1411.64 1702.35,1411.64" fill="#8b8b4b" stroke="#000" stroke-width="2.0" stroke-linejoin="round"/>
<circle cx="1838.1" cy="1436.7" r="12.75" fill="#a52224" stroke="#000" stroke-width="2.0"/>
<text x="1993.5" y="100.4" text-anchor="middle" font-size="25" fill="#202020">(73, 16)</text>
<text x="1993.5" y="133.4" text-anchor="middle" font-size="25" fill="#202020">(80, 19)</text>
<text x="1993.5" y="188.4" text-anchor="middle" font-size="25" fill="#202020">(70, 16)</text>
<text x="1993.5" y="221.4" text-anchor="middle" font-size="25" fill="#202020">(47, 11)</text>
<text x="1993.5" y="309.9" text-anchor="middle" font-size="25" fill="#202020">(34, 7)</text>
<text x="1993.5" y="342.9" text-anchor="middle" font-size="25" fill="#202020">(43, 11)</text>
<text x="1993.5" y="607.6" text-anchor="middle" font-size="25" fill="#202020">(56, 14)</text>
<text x="1993.5" y="640.6" text-anchor="middle" font-size="25" fill="#202020">(47, 8)</text>
<text x="1993.5" y="695.7" text-anchor="middle" font-size="25" fill="#202020">(95, 18)</text>
<text x="1993.5" y="728.7" text-anchor="middle" font-size="25" fill="#202020">(61, 15)</text>
<text x="1993.5" y="817.4" text-anchor="middle" font-size="25" fill="#202020">(15, 6)</text>
<text x="1993.5" y="850.4" text-anchor="middle" font-size="25" fill="#202020">(40, 8)</text>
<text x="1993.5" y="905.3" text-anchor="middle" font-size="25" fill="#202020">(9, 2)</text>
<text x="1993.5" y="938.3" text-anchor="middle" font-size="25" fill="#202020">(12, 1)</text>
<text x="1993.5" y="1026.9" text-anchor="middle" font-size="25" fill="#202020">(44, 8)</text>
<text x="1993.5" y="1059.9" text-anchor="middle" font-size="25" fill="#202020">(15, 6)</text>
<text x="1993.5" y="1115.1" text-anchor="middle" font-size="25" fill="#202020">(48, 15)</text>
<text x="1993.5" y="1148.1" text-anchor="middle" font-size="25" fill="#202020">(54, 12)</text>
<text x="1993.5" y="1203.2" text-anchor="middle" font-size="25" fill="#202020">(59, 20)</text>
<text x="1993.5" y="1236.2" text-anchor="middle" font-size="25" fill="#202020">(61, 14)</text>
<text x="1993.5" y="1324.7" text-anchor="middle" font-size="25" fill="#202020">(73, 17)</text>
<text x="1993.5" y="1357.7" text-anchor="middle" font-size="25" fill="#202020">(92, 17)</text>
<text x="1993.5" y="1412.9" text-anchor="middle" font-size="25" fill="#202020">(11, 7)</text>
<text x="1993.5" y="1445.9" text-anchor="middle" font-size="25" fill="#202020">(31, 9)</text>
<circle cx="1751.6" cy="468.2" r="5.9" fill="#a52224" stroke="#000" stroke-width="1.4"/>
<polygon points="1751.7,500.77 1759.35,514.02 1744.05,514.02" fill="#8b8b4b" stroke="#000" stroke-width="1.4" stroke-linejoin="round"/>
<text x="1792" y="478.4" font-size="29" fill="#000">Legume</text>
<text x="1792" y="519.8" font-size="29" fill="#000">Non-Legume</text>
</svg></body></html>
